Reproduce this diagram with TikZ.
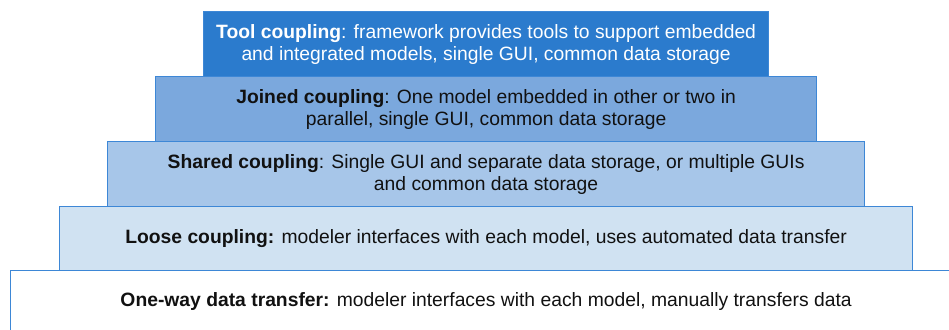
\documentclass[tikz,border=0pt]{standalone}
\usepackage{fontspec}
\setmainfont{Liberation Sans}
\definecolor{edgeblue}{HTML}{3D87D6}
\definecolor{toolfill}{HTML}{2B7BCD}
\definecolor{joinfill}{HTML}{7BA8DD}
\definecolor{sharefill}{HTML}{A7C6E9}
\definecolor{loosefill}{HTML}{D0E2F2}
\definecolor{txt}{HTML}{111111}
\begin{document}
\begin{tikzpicture}[x=1pt,y=1pt,
  tier/.style={draw=edgeblue, line width=1.2pt, anchor=north west, inner sep=0pt,
    align=center, font=\fontsize{19.3}{22}\selectfont, text=txt}]
\useasboundingbox (0,0) rectangle (949,-329);
\begin{scope}
\clip (0,0) rectangle (949,-329);
% widest base tier runs off the page to the right and bottom
\node[tier, fill=white, minimum width=951pt, minimum height=62pt] (oneway) at (10,-270)
  {\textbf{One-way data transfer:} modeler interfaces with each model, manually transfers data};
\end{scope}
\node[tier, fill=loosefill, minimum width=853pt, minimum height=64pt] (loose) at (59,-206)
  {\textbf{Loose coupling:} modeler interfaces with each model, uses automated data transfer};
\node[tier, fill=sharefill, minimum width=757pt, minimum height=65pt] (shared) at (107,-141)
  {\textbf{Shared coupling}: Single GUI and separate data storage, or multiple GUIs\\and common data storage};
\node[tier, fill=joinfill, minimum width=661pt, minimum height=65pt] (joined) at (155,-76)
  {\textbf{Joined coupling}: One model embedded in other or two in\\parallel, single GUI, common data storage};
\node[tier, fill=toolfill, text=white, minimum width=565pt, minimum height=65pt] (tool) at (203,-11)
  {\textbf{Tool coupling}: framework provides tools to support embedded\\and integrated models, single GUI, common data storage};
\end{tikzpicture}
\end{document}
